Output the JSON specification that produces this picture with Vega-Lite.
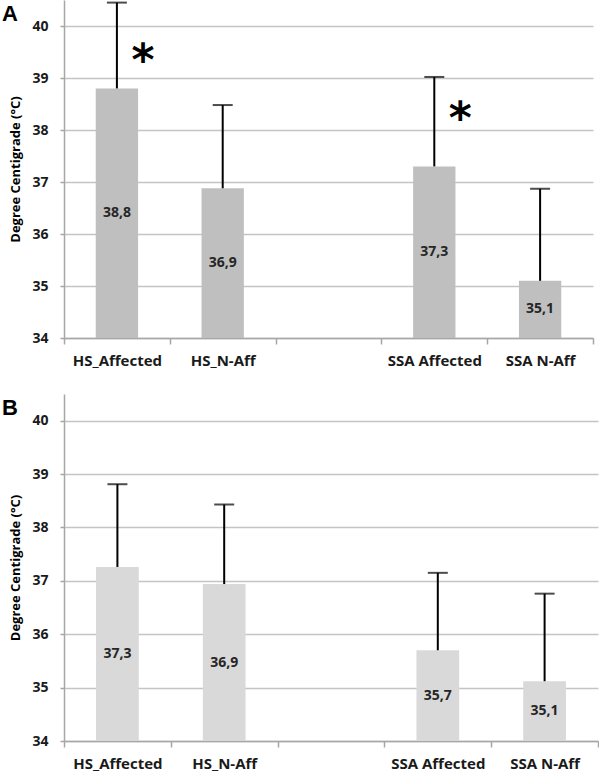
{
  "$schema": "https://vega.github.io/schema/vega-lite/v6.json",
  "padding": {"left": 2, "top": 0, "right": 0, "bottom": 0},
  "spacing": 26,
  "datasets": {
    "a": [
      {"group": "HS_Affected", "mean": 38.8, "upper": 40.45},
      {"group": "HS_N-Aff", "mean": 36.88, "upper": 38.48},
      {"group": "SSA Affected", "mean": 37.3, "upper": 39.02},
      {"group": "SSA N-Aff", "mean": 35.1, "upper": 36.87}
    ],
    "a_sig": [
      {"group": "HS_Affected", "sig": "*", "y": 39.5},
      {"group": "SSA Affected", "sig": "*", "y": 38.38}
    ],
    "b": [
      {"group": "HS_Affected", "mean": 37.26, "upper": 38.81},
      {"group": "HS_N-Aff", "mean": 36.94, "upper": 38.43},
      {"group": "SSA Affected", "mean": 35.7, "upper": 37.15},
      {"group": "SSA N-Aff", "mean": 35.12, "upper": 36.76}
    ]
  },
  "config": {
    "view": {"stroke": null},
    "font": "Open Sans",
    "axis": {
      "domainColor": "#a6a6a6",
      "domainWidth": 1.5,
      "tickColor": "#a6a6a6",
      "tickWidth": 1.5,
      "gridColor": "#c4c4c4",
      "gridWidth": 1.5,
      "labelFontWeight": "bold",
      "labelColor": "#1a1a1a",
      "titleFontWeight": "bold",
      "titleColor": "#000000"
    }
  },
  "vconcat": [
    {
      "width": 529,
      "height": 338,
      "title": {"text": "A", "anchor": "start", "frame": "group", "orient": "top", "baseline": "top", "offset": -26, "dx": -62, "fontSize": 22, "font": "Liberation Sans", "fontWeight": "bold", "color": "#000000"},
      "encoding": {
        "x": {
          "field": "group", "type": "nominal",
          "scale": {"domain": ["HS_Affected", "HS_N-Aff", " ", "SSA Affected", "SSA N-Aff"], "paddingInner": 0, "paddingOuter": 0},
          "axis": {"tickBand": "extent", "labelAngle": 0, "tickSize": 6, "labelPadding": 9, "labelFontSize": 15, "grid": false},
          "title": null
        }
      },
      "layer": [
        {
          "data": {"name": "a"},
          "mark": {"type": "bar", "color": "#bfbfbf", "width": {"band": 0.4}},
          "encoding": {
            "y": {"field": "mean", "type": "quantitative", "scale": {"domain": [34, 40.5], "nice": false, "zero": false},
              "axis": {"values": [34, 35, 36, 37, 38, 39, 40], "grid": true, "tickSize": 4, "labelPadding": 12, "labelFontSize": 14, "titleFontSize": 13, "titlePadding": 9},
              "title": "Degree Centigrade (°C)"},
            "y2": {"datum": 34}
          }
        },
        {
          "data": {"name": "a"},
          "mark": {"type": "rule", "color": "#000000", "strokeWidth": 2},
          "encoding": {"y": {"field": "mean", "type": "quantitative"}, "y2": {"field": "upper"}}
        },
        {
          "data": {"name": "a"},
          "mark": {"type": "tick", "color": "#000000", "thickness": 2, "size": 20},
          "encoding": {"y": {"field": "upper", "type": "quantitative"}}
        },
        {
          "data": {"name": "a"},
          "transform": [
            {"calculate": "(datum.mean + 34) / 2", "as": "mid"},
            {"calculate": "replace(format(datum.mean, '.1f'), '.', ',')", "as": "label"}
          ],
          "mark": {"type": "text", "fontWeight": "bold", "fontSize": 14, "color": "#262626"},
          "encoding": {"y": {"field": "mid", "type": "quantitative"}, "text": {"field": "label"}}
        },
        {
          "data": {"name": "a_sig"},
          "mark": {"type": "text", "fontSize": 44, "font": "DejaVu Sans", "fontWeight": "bold", "dx": 26, "dy": 10, "color": "#000000"},
          "encoding": {"y": {"field": "y", "type": "quantitative"}, "text": {"field": "sig"}}
        }
      ]
    },
    {
      "width": 534,
      "height": 347,
      "title": {"text": "B", "anchor": "start", "frame": "group", "orient": "top", "baseline": "top", "offset": -26, "dx": -62, "fontSize": 22, "font": "Liberation Sans", "fontWeight": "bold", "color": "#000000"},
      "encoding": {
        "x": {
          "field": "group", "type": "nominal",
          "scale": {"domain": ["HS_Affected", "HS_N-Aff", " ", "SSA Affected", "SSA N-Aff"], "paddingInner": 0, "paddingOuter": 0},
          "axis": {"tickBand": "extent", "labelAngle": 0, "tickSize": 6, "labelPadding": 9, "labelFontSize": 15, "grid": false},
          "title": null
        }
      },
      "layer": [
        {
          "data": {"name": "b"},
          "mark": {"type": "bar", "color": "#d9d9d9", "width": {"band": 0.4}},
          "encoding": {
            "y": {"field": "mean", "type": "quantitative", "scale": {"domain": [34, 40.5], "nice": false, "zero": false},
              "axis": {"values": [34, 35, 36, 37, 38, 39, 40], "grid": true, "tickSize": 4, "labelPadding": 12, "labelFontSize": 14, "titleFontSize": 13, "titlePadding": 9},
              "title": "Degree Centigrade (°C)"},
            "y2": {"datum": 34}
          }
        },
        {
          "data": {"name": "b"},
          "mark": {"type": "rule", "color": "#000000", "strokeWidth": 2},
          "encoding": {"y": {"field": "mean", "type": "quantitative"}, "y2": {"field": "upper"}}
        },
        {
          "data": {"name": "b"},
          "mark": {"type": "tick", "color": "#000000", "thickness": 2, "size": 20},
          "encoding": {"y": {"field": "upper", "type": "quantitative"}}
        },
        {
          "data": {"name": "b"},
          "transform": [
            {"calculate": "(datum.mean + 34) / 2", "as": "mid"},
            {"calculate": "replace(format(datum.mean, '.1f'), '.', ',')", "as": "label"}
          ],
          "mark": {"type": "text", "fontWeight": "bold", "fontSize": 14, "color": "#262626"},
          "encoding": {"y": {"field": "mid", "type": "quantitative"}, "text": {"field": "label"}}
        }
      ]
    }
  ]
}
